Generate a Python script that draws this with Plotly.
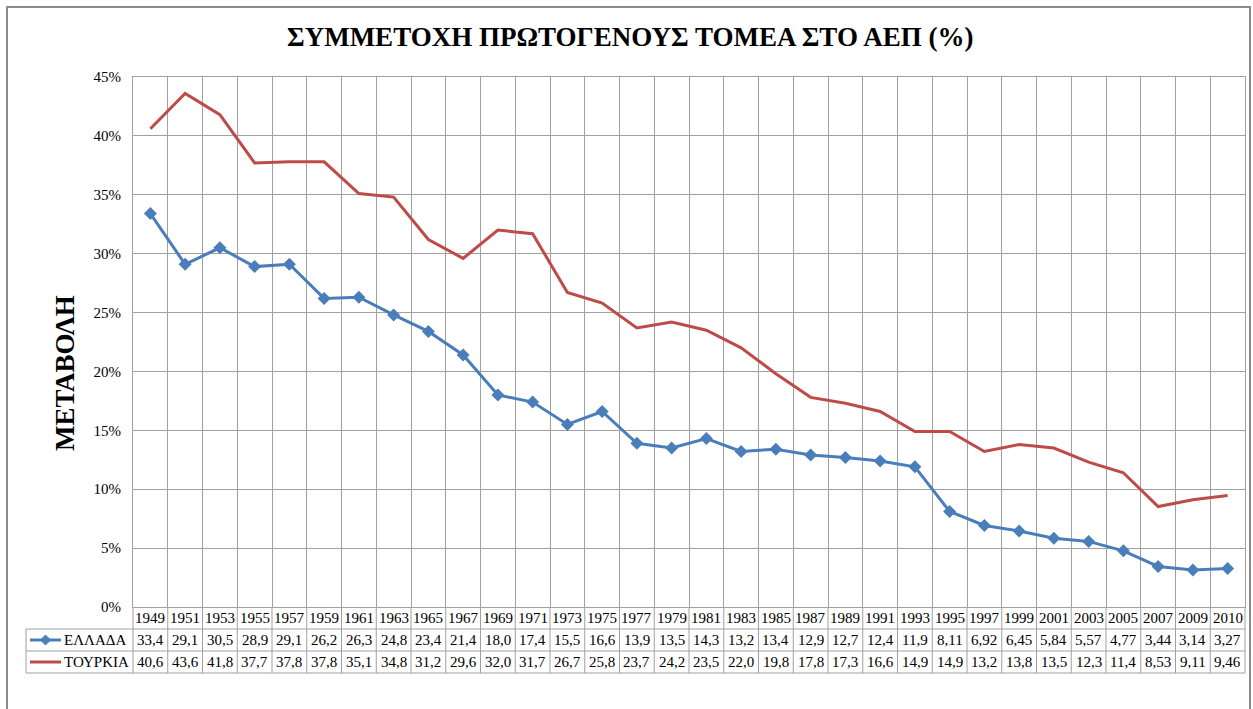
import plotly.graph_objects as go

years = ["1949", "1951", "1953", "1955", "1957", "1959", "1961", "1963", "1965", "1967",
         "1969", "1971", "1973", "1975", "1977", "1979", "1981", "1983", "1985", "1987",
         "1989", "1991", "1993", "1995", "1997", "1999", "2001", "2003", "2005", "2007",
         "2009", "2010"]
greece = [33.4, 29.1, 30.5, 28.9, 29.1, 26.2, 26.3, 24.8, 23.4, 21.4,
          18.0, 17.4, 15.5, 16.6, 13.9, 13.5, 14.3, 13.2, 13.4, 12.9,
          12.7, 12.4, 11.9, 8.11, 6.92, 6.45, 5.84, 5.57, 4.77, 3.44,
          3.14, 3.27]
turkey = [40.6, 43.6, 41.8, 37.7, 37.8, 37.8, 35.1, 34.8, 31.2, 29.6,
          32.0, 31.7, 26.7, 25.8, 23.7, 24.2, 23.5, 22.0, 19.8, 17.8,
          17.3, 16.6, 14.9, 14.9, 13.2, 13.8, 13.5, 12.3, 11.4, 8.53,
          9.11, 9.46]
series_names = ["ΕΛΛΑΔΑ", "ΤΟΥΡΚΙΑ"]
colors = ["#4a7ebb", "#be4b48"]

W, H = 1253, 709
left, right, top, bottom = 133, 1245, 77, 607
row_h = 22
grid = "#a0a0a0"
serif = "Liberation Serif"


def px(x):
    return x / W


def py(y):
    return 1 - y / H


def fmt(v):  # excel style, 3 significant digits, comma decimal
    s = f"{v:.1f}" if v >= 10 else f"{v:.2f}"
    return s.replace(".", ",")


def label(x, y, text, size=15, xref="paper", xanchor="center", angle=0):
    return dict(x=x, xref=xref, y=y, yref="paper", text=text, showarrow=False,
                xanchor=xanchor, yanchor="middle", textangle=angle,
                font=dict(family=serif, size=size, color="#000"))


idx = list(range(len(years)))
fig = go.Figure()
fig.add_scatter(x=idx, y=greece, mode="lines+markers", name=series_names[0],
                line=dict(color=colors[0], width=3),
                marker=dict(symbol="diamond", size=10, color=colors[0]))
fig.add_scatter(x=idx, y=turkey, mode="lines", name=series_names[1],
                line=dict(color=colors[1], width=3))

shapes = []
# outer chart border
shapes.append(dict(type="rect", xref="paper", yref="paper", x0=px(7), x1=px(1250),
                   y0=py(730), y1=py(7), line=dict(color="#8c8c8c", width=2)))
# table rows
for k in range(1, 4):
    y = bottom + k * row_h
    shapes.append(dict(type="line", xref="paper", yref="paper", x0=px(26), x1=px(right),
                       y0=py(y), y1=py(y), line=dict(color=grid, width=1)))
# table columns
col_w = (right - left) / len(years)
for i in range(len(years) + 1):
    x = left + i * col_w
    shapes.append(dict(type="line", xref="paper", yref="paper", x0=px(x), x1=px(x),
                       y0=py(bottom), y1=py(bottom + 3 * row_h), line=dict(color=grid, width=1)))
shapes.append(dict(type="line", xref="paper", yref="paper", x0=px(26), x1=px(26),
                   y0=py(bottom + row_h), y1=py(bottom + 3 * row_h), line=dict(color=grid, width=1)))

annotations = []
for i, yr in enumerate(years):
    annotations.append(label(i, py(bottom + row_h / 2), yr, xref="x"))
    for r, vals in enumerate([greece, turkey]):
        annotations.append(label(i, py(bottom + row_h * (r + 1.5)), fmt(vals[i]), xref="x"))

# legend keys inside the table
for r, name in enumerate(series_names):
    yc = bottom + row_h * (r + 1.5)
    shapes.append(dict(type="line", xref="paper", yref="paper", x0=px(30), x1=px(61),
                       y0=py(yc), y1=py(yc), line=dict(color=colors[r], width=3)))
    if r == 0:
        cx, d = 45.5, 5
        path = (f"M {px(cx)},{py(yc - d)} L {px(cx + d)},{py(yc)} "
                f"L {px(cx)},{py(yc + d)} L {px(cx - d)},{py(yc)} Z")
        shapes.append(dict(type="path", xref="paper", yref="paper", path=path,
                           fillcolor=colors[0], line=dict(color=colors[0], width=1)))
    annotations.append(label(px(62), py(yc), name, xanchor="left"))

annotations.append(label(px(630), py(37), "<b>ΣΥΜΜΕΤΟΧΗ ΠΡΩΤΟΓΕΝΟΥΣ ΤΟΜΕΑ ΣΤΟ ΑΕΠ (%)</b>", size=27))
annotations.append(label(px(65), py(373), "<b>ΜΕΤΑΒΟΛΗ</b>", size=27, angle=-90))

fig.update_layout(
    width=W, height=H,
    margin=dict(l=0, r=0, t=0, b=0, autoexpand=False),
    paper_bgcolor="white", plot_bgcolor="white",
    showlegend=False,
    shapes=shapes, annotations=annotations,
    xaxis=dict(domain=[px(left), px(right)], range=[-0.5, len(years) - 0.5],
               tickmode="array", tickvals=[i - 0.5 for i in range(len(years) + 1)],
               showticklabels=False, showgrid=True, gridcolor=grid, zeroline=False,
               showline=True, linecolor=grid, mirror=True, ticks="", automargin=False),
    yaxis=dict(domain=[py(bottom), py(top)], range=[0, 45], dtick=5, ticksuffix="%",
               showgrid=True, gridcolor=grid, zeroline=False, showline=True,
               linecolor=grid, mirror=True, ticks="", ticklabelstandoff=8, automargin=False,
               tickfont=dict(family=serif, size=15, color="#000")),
)

fig.write_html("out.html", config={"displayModeBar": False},
               post_script="document.body.style.margin='0';document.body.style.overflow='hidden';")
